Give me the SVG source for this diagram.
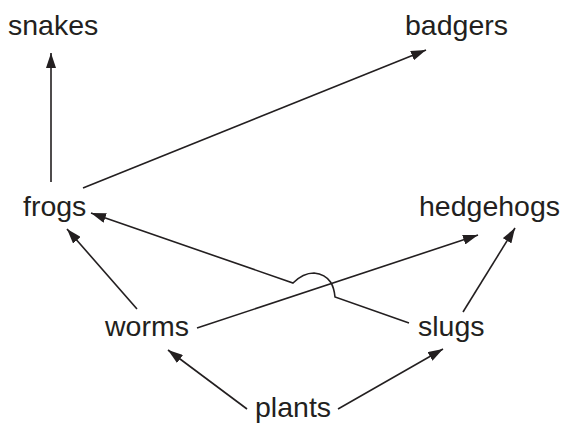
<svg xmlns="http://www.w3.org/2000/svg" width="565" height="424" viewBox="0 0 565 424">
<defs>
<style>
text{font-family:"Liberation Sans",Arial,sans-serif;font-size:28.5px;fill:#231f20}
.e{stroke:#231f20;stroke-width:1.6;fill:none;marker-end:url(#ah)}
</style>
<marker id="ah" markerUnits="userSpaceOnUse" markerWidth="16" markerHeight="10" refX="15" refY="5" orient="auto">
<path d="M0,0 L15,5 L0,10 z" fill="#231f20"/>
</marker>
</defs>
<rect width="565" height="424" fill="#fff"/>
<g id="connectors">
<path class="e" d="M51,182 L51,53"/>
<path class="e" d="M83,188 L426,50"/>
<path class="e" d="M137,309 L67,229"/>
<path class="e" d="M197,328 L478,235"/>
<path class="e" d="M463,312 L515,228"/>
<path class="e" d="M409,323 L335,297 C334,287 331,275 314,273 C304,273 298,278 293,283 L91,213"/>
<path class="e" d="M247,409 L168,350"/>
<path class="e" d="M338,409 L443,349"/>
</g>
<g id="snakes"><text x="8" y="35">snakes</text></g>
<g id="badgers"><text x="405" y="35">badgers</text></g>
<g id="frogs"><text x="23" y="216">frogs</text></g>
<g id="hedgehogs"><text x="419" y="216">hedgehogs</text></g>
<g id="worms"><text x="105" y="336">worms</text></g>
<g id="slugs"><text x="418" y="336">slugs</text></g>
<g id="plants"><text x="255" y="417">plants</text></g>
</svg>
